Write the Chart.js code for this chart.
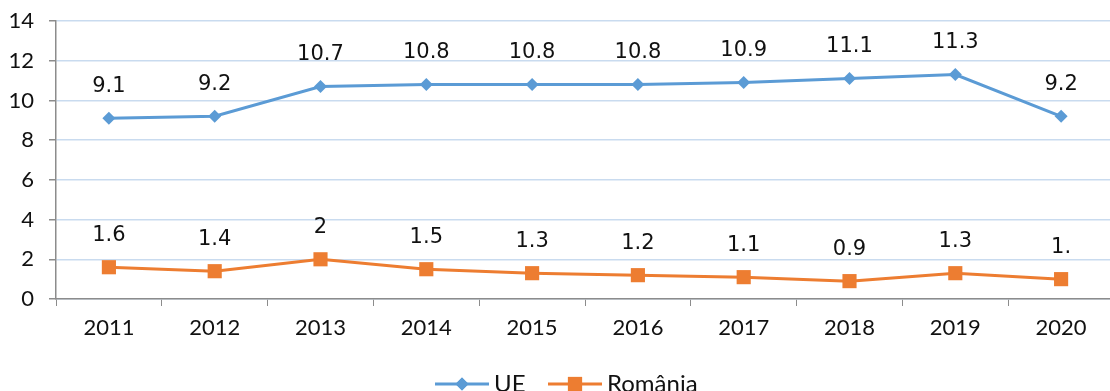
<!DOCTYPE html>
<html>
<head>
<meta charset="utf-8">
<script src="https://cdn.jsdelivr.net/npm/chart.js@4.4.0/dist/chart.umd.min.js"></script>
<style>
    html, body { margin: 0; padding: 0; background: #fff; overflow: hidden; }
    #wrap { width: 1124px; height: 410px; }
</style>
</head>
<body>
<div id="wrap"><canvas id="grafic" width="1124" height="410"></canvas></div>
<script>
// Date
const ani = ['2011', '2012', '2013', '2014', '2015', '2016', '2017', '2018', '2019', '2020'];
const valoriUE = [9.1, 9.2, 10.7, 10.8, 10.8, 10.8, 10.9, 11.1, 11.3, 9.2];
const valoriRomania = [1.6, 1.4, 2.0, 1.5, 1.3, 1.2, 1.1, 0.9, 1.3, 1.0];
const eticheteUE = ['9.1', '9.2', '10.7', '10.8', '10.8', '10.8', '10.9', '11.1', '11.3', '9.2'];
const eticheteRomania = ['1.6', '1.4', '2', '1.5', '1.3', '1.2', '1.1', '0.9', '1.3', '1.'];
const numeSerii = ['UE', 'România'];

const albastru = '#5b9bd5';
const portocaliu = '#ed7d31';
const gri = '#8c8c8c';

// Etichete de valori deasupra punctelor
const eticheteValori = {
    id: 'eticheteValori',
    afterDatasetsDraw(chart) {
        const ctx = chart.ctx;
        const texte = [eticheteUE, eticheteRomania];
        ctx.save();
        ctx.font = '21px "DejaVu Sans"';
        ctx.fillStyle = '#111';
        ctx.textAlign = 'center';
        ctx.textBaseline = 'middle';
        chart.data.datasets.forEach((ds, i) => {
            chart.getDatasetMeta(i).data.forEach((pt, j) => {
                ctx.fillText(texte[i][j], pt.x, pt.y - 32);
            });
        });
        ctx.restore();
    }
};

// Legenda: linie cu marcaj + text, jos
const legendaJos = {
    id: 'legendaJos',
    afterDraw(chart) {
        const ctx = chart.ctx;
        const y = 384;
        const intrari = [
            { x: 435, culoare: albastru, stil: 'rectRot', r: 6.5 },
            { x: 548, culoare: portocaliu, stil: 'rect', r: 10 }
        ];
        ctx.save();
        ctx.font = '24px Lato';
        ctx.textBaseline = 'middle';
        intrari.forEach((e, i) => {
            ctx.strokeStyle = e.culoare;
            ctx.lineWidth = 3;
            ctx.beginPath();
            ctx.moveTo(e.x, y);
            ctx.lineTo(e.x + 54, y);
            ctx.stroke();
            ctx.fillStyle = e.culoare;
            Chart.helpers.drawPoint(ctx, { pointStyle: e.stil, radius: e.r, borderWidth: 0 }, e.x + 27, y);
            ctx.fill();
            ctx.fillStyle = '#111';
            ctx.fillText(numeSerii[i], e.x + 59, y);
        });
        ctx.restore();
    }
};

new Chart(document.getElementById('grafic').getContext('2d'), {
    type: 'line',
    data: {
        labels: ani,
        datasets: [
            {
                label: numeSerii[0],
                data: valoriUE,
                borderColor: albastru,
                backgroundColor: albastru,
                borderWidth: 3,
                pointStyle: 'rectRot',
                pointRadius: 6.5,
                pointBorderWidth: 0,
                tension: 0
            },
            {
                label: numeSerii[1],
                data: valoriRomania,
                borderColor: portocaliu,
                backgroundColor: portocaliu,
                borderWidth: 3,
                pointStyle: 'rect',
                pointRadius: 10,
                pointBorderWidth: 0,
                tension: 0
            }
        ]
    },
    options: {
        responsive: false,
        animation: false,
        layout: { padding: { top: 21, right: 2, bottom: 61, left: 0 } },
        plugins: {
            legend: { display: false },
            tooltip: { enabled: false }
        },
        scales: {
            x: {
                offset: true,
                afterFit(scale) { scale.height = 50; },
                grid: {
                    offset: true,
                    drawOnChartArea: false,
                    color: gri,
                    tickColor: gri,
                    tickLength: 7
                },
                border: { color: gri, width: 1.5 },
                ticks: {
                    color: '#111',
                    padding: 9,
                    maxRotation: 0,
                    font: { family: 'Lato', size: 22 }
                }
            },
            y: {
                min: 0,
                max: 14,
                afterFit(scale) {
                    scale.width = 56;
                    scale.paddingTop = 0;
                    scale.paddingBottom = 0;
                },
                grid: {
                    color: '#c9dbef',
                    lineWidth: 1.5,
                    tickColor: gri,
                    tickLength: 7
                },
                border: { color: gri, width: 1.5 },
                ticks: {
                    stepSize: 2,
                    color: '#111',
                    padding: 15,
                    font: { family: 'Lato', size: 22 }
                }
            }
        }
    },
    plugins: [eticheteValori, legendaJos]
});
</script>
</body>
</html>
